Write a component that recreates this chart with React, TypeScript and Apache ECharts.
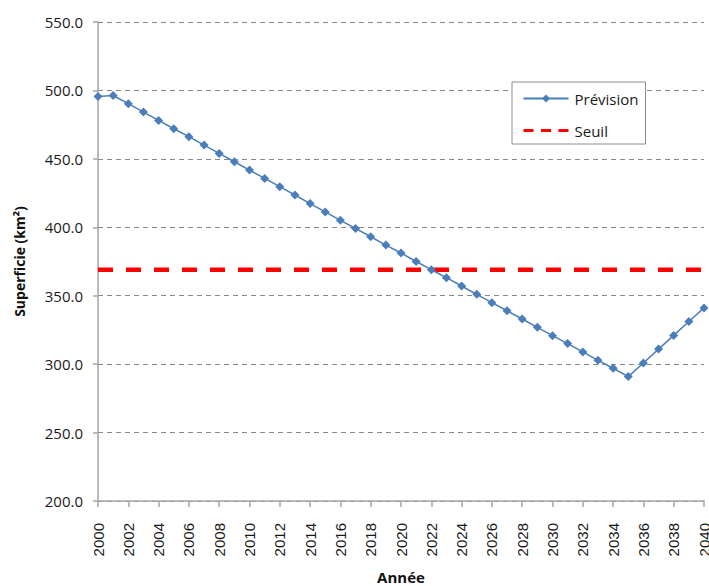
import React, { useEffect, useRef } from "react";
import * as echarts from "echarts";

const years: number[] = [];
for (let y = 2000; y <= 2040; y++) years.push(y);

const prevision = [
  495.5, 496.3, 490.3, 484.2, 478.1, 472.0, 466.2, 460.1, 454.0, 447.9,
  441.8, 435.7, 429.7, 423.6, 417.3, 411.2, 405.1, 399.2, 393.1, 387.0,
  381.2, 375.0, 369.0, 363.2, 357.1, 351.0, 344.9, 339.0, 333.0, 326.9,
  320.8, 315.0, 308.9, 302.8, 297.0, 290.9, 300.8, 311.0, 321.0, 331.2,
  341.1,
];

const seuilValue = 369;
const seuilYears = [2000, 2040];

const yMin = 200;
const yMax = 550;
const yInterval = 50;

const seriesNames = ["Prévision", "Seuil"];
const yTitle = "Superficie (km²)";
const xTitle = "Année";

export default function App() {
  const ref = useRef<HTMLDivElement>(null);
  useEffect(() => {
    if (!ref.current) return;
    const chart = echarts.init(ref.current, undefined, { renderer: "svg" });
    chart.setOption({
      animation: false,
      backgroundColor: "#ffffff",
      grid: { left: 98, top: 22, right: 5, bottom: 85, containLabel: false, outerBoundsMode: "none" },
      legend: {
        orient: "vertical",
        left: 512,
        top: 82,
        padding: [9, 7, 6, 10],
        itemGap: 17,
        itemWidth: 45,
        itemHeight: 10,
        backgroundColor: "#ffffff",
        borderColor: "#8c8c8c",
        borderWidth: 1,
        borderRadius: 0,
        textStyle: { fontFamily: "Open Sans", fontSize: 15, color: "#1a1a1a", padding: [0, 0, 0, 1] },
        data: [
          { name: seriesNames[0] },
          { name: seriesNames[1], itemStyle: { opacity: 0 }, lineStyle: { type: [10, 7.5], width: 3 } },
        ],
      },
      xAxis: {
        type: "value",
        min: 2000,
        max: 2040,
        interval: 2,
        name: xTitle,
        nameLocation: "middle",
        nameGap: 68,
        nameMoveOverlap: false,
        nameTextStyle: { fontFamily: "Open Sans", fontWeight: "bold", fontSize: 15, color: "#111" },
        axisLine: { lineStyle: { color: "#a6a6a6", width: 1.5 } },
        axisTick: { show: true, length: 6, lineStyle: { color: "#a6a6a6", width: 1.5 } },
        axisLabel: {
          rotate: 90,
          margin: 22,
          fontFamily: "Liberation Sans",
          fontSize: 15,
          color: "#1a1a1a",
          formatter: (v: number) => String(v),
        },
        splitLine: { show: false },
      },
      yAxis: {
        type: "value",
        min: yMin,
        max: yMax,
        interval: yInterval,
        name: yTitle,
        nameLocation: "middle",
        nameGap: 72,
        nameMoveOverlap: false,
        nameTextStyle: { fontFamily: "Open Sans", fontWeight: "bold", fontSize: 14, color: "#111" },
        axisLine: { show: true, lineStyle: { color: "#a6a6a6", width: 1.5 } },
        axisTick: { show: true, length: 5, lineStyle: { color: "#a6a6a6", width: 1.5 } },
        axisLabel: {
          margin: 15,
          fontFamily: "Open Sans",
          fontSize: 15,
          color: "#1a1a1a",
          formatter: (v: number) => v.toFixed(1),
        },
        splitLine: { show: true, lineStyle: { color: "#888888", type: [5, 4], width: 1.2 } },
      },
      series: [
        {
          name: seriesNames[0],
          type: "line",
          data: years.map((y, i) => [y, prevision[i]]),
          symbol: "diamond",
          symbolSize: 9,
          showAllSymbol: true,
          lineStyle: { color: "#4a7ebb", width: 1.5 },
          itemStyle: { color: "#4a7ebb" },
          z: 3,
        },
        {
          name: seriesNames[1],
          type: "line",
          data: seuilYears.map((y) => [y, seuilValue]),
          symbol: "none",
          lineStyle: { color: "#ff0000", width: 4.5, type: [15, 13] },
          itemStyle: { color: "#ff0000" },
          z: 2,
        },
      ],
    });
    return () => chart.dispose();
  }, []);
  return (
    <div
      ref={ref}
      style={{ position: "fixed", left: 0, top: 0, width: 709, height: 586 }}
    />
  );
}
